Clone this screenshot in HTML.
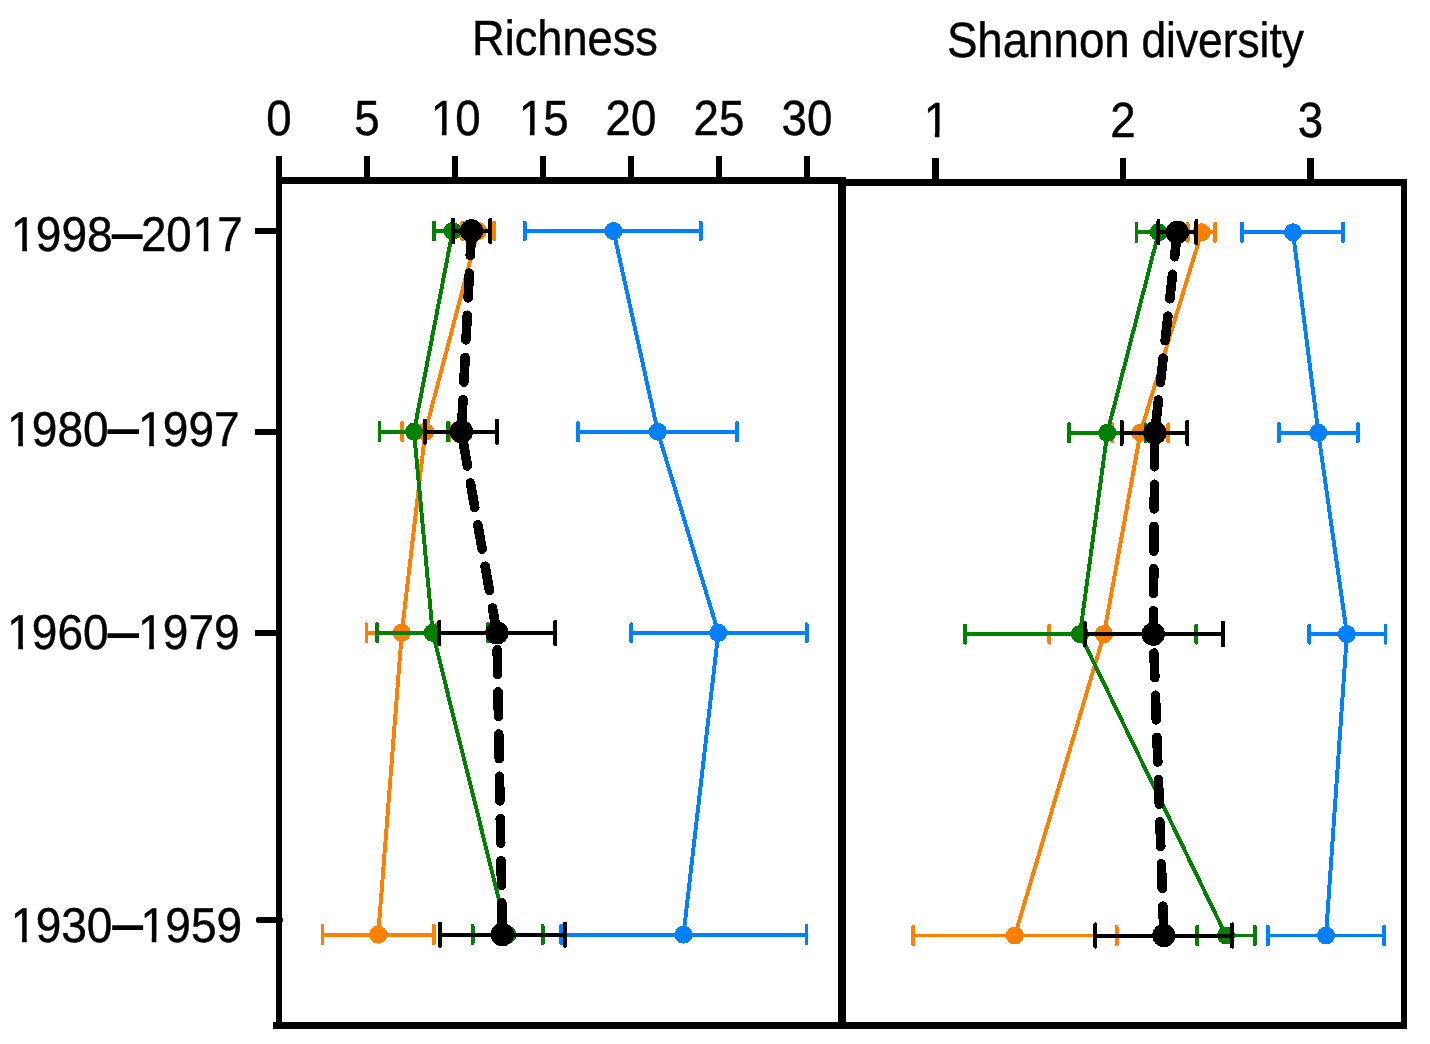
<!DOCTYPE html>
<html lang="en">
<head>
<meta charset="utf-8">
<title>Richness and Shannon diversity by period</title>
<style>
html,body{margin:0;padding:0;background:#fff;}
body{width:1430px;height:1044px;overflow:hidden;}
svg{display:block;}
svg text{font-family:"Liberation Sans",sans-serif;fill:#000;stroke:#000;stroke-width:0.45px;text-rendering:geometricPrecision;}
.frame rect{fill:#000;}
svg text .dash{stroke-width:1.55px;}
</style>
</head>
<body>
<svg width="1430" height="1044" viewBox="0 0 1430 1044">
<rect width="1430" height="1044" fill="#fff"/>
<g class="data" shape-rendering="crispEdges">
<g class="s-blue">
<polyline points="613.5,231.0 657.8,431.7 718.3,632.8 683.5,934.6" fill="none" stroke="#007FFF" stroke-width="3.9" stroke-linejoin="round"/>
<path d="M524.8 231.0H700.8" stroke="#007FFF" stroke-width="3.9" fill="none"/>
<path d="M524.8 222.4V239.6M700.8 222.4V239.6" stroke="#007FFF" stroke-width="3.9" stroke-linecap="round" fill="none"/>
<path d="M578.0 431.7H737.0" stroke="#007FFF" stroke-width="3.9" fill="none"/>
<path d="M578.0 423.1V440.3M737.0 423.1V440.3" stroke="#007FFF" stroke-width="3.9" stroke-linecap="round" fill="none"/>
<path d="M631.4 632.8H806.7" stroke="#007FFF" stroke-width="3.9" fill="none"/>
<path d="M631.4 624.2V641.4M806.7 624.2V641.4" stroke="#007FFF" stroke-width="3.9" stroke-linecap="round" fill="none"/>
<path d="M561.2 934.6H806.5" stroke="#007FFF" stroke-width="3.9" fill="none"/>
<path d="M561.2 926.0V943.2M806.5 926.0V943.2" stroke="#007FFF" stroke-width="3.9" stroke-linecap="round" fill="none"/>
<circle cx="613.5" cy="231.0" r="9.0" fill="#007FFF"/>
<circle cx="657.8" cy="431.7" r="9.0" fill="#007FFF"/>
<circle cx="718.3" cy="632.8" r="9.0" fill="#007FFF"/>
<circle cx="683.5" cy="934.6" r="9.0" fill="#007FFF"/>
<polyline points="1293.0,232.3 1318.3,432.8 1346.9,634.1 1326.0,935.5" fill="none" stroke="#007FFF" stroke-width="3.9" stroke-linejoin="round"/>
<path d="M1242.0 232.3H1343.0" stroke="#007FFF" stroke-width="3.9" fill="none"/>
<path d="M1242.0 223.7V240.9M1343.0 223.7V240.9" stroke="#007FFF" stroke-width="3.9" stroke-linecap="round" fill="none"/>
<path d="M1278.9 432.8H1357.9" stroke="#007FFF" stroke-width="3.9" fill="none"/>
<path d="M1278.9 424.2V441.4M1357.9 424.2V441.4" stroke="#007FFF" stroke-width="3.9" stroke-linecap="round" fill="none"/>
<path d="M1309.3 634.1H1385.5" stroke="#007FFF" stroke-width="3.9" fill="none"/>
<path d="M1309.3 625.5V642.7M1385.5 625.5V642.7" stroke="#007FFF" stroke-width="3.9" stroke-linecap="round" fill="none"/>
<path d="M1267.8 935.5H1384.3" stroke="#007FFF" stroke-width="3.9" fill="none"/>
<path d="M1267.8 926.9V944.1M1384.3 926.9V944.1" stroke="#007FFF" stroke-width="3.9" stroke-linecap="round" fill="none"/>
<circle cx="1293.0" cy="232.3" r="9.0" fill="#007FFF"/>
<circle cx="1318.3" cy="432.8" r="9.0" fill="#007FFF"/>
<circle cx="1346.9" cy="634.1" r="9.0" fill="#007FFF"/>
<circle cx="1326.0" cy="935.5" r="9.0" fill="#007FFF"/>
</g>
<g class="s-orange">
<polyline points="478.0,231.0 425.3,431.7 401.8,632.8 378.2,934.6" fill="none" stroke="#FF7F00" stroke-width="3.9" stroke-linejoin="round"/>
<path d="M462.3 231.0H494.3" stroke="#FF7F00" stroke-width="3.9" fill="none"/>
<path d="M462.3 222.4V239.6M494.3 222.4V239.6" stroke="#FF7F00" stroke-width="3.9" stroke-linecap="round" fill="none"/>
<path d="M402.1 431.7H449.3" stroke="#FF7F00" stroke-width="3.9" fill="none"/>
<path d="M402.1 423.1V440.3M449.3 423.1V440.3" stroke="#FF7F00" stroke-width="3.9" stroke-linecap="round" fill="none"/>
<path d="M366.5 632.8H437.0" stroke="#FF7F00" stroke-width="3.9" fill="none"/>
<path d="M366.5 624.2V641.4M437.0 624.2V641.4" stroke="#FF7F00" stroke-width="3.9" stroke-linecap="round" fill="none"/>
<path d="M322.5 934.6H433.8" stroke="#FF7F00" stroke-width="3.9" fill="none"/>
<path d="M322.5 926.0V943.2M433.8 926.0V943.2" stroke="#FF7F00" stroke-width="3.9" stroke-linecap="round" fill="none"/>
<circle cx="478.0" cy="231.0" r="9.0" fill="#FF7F00"/>
<circle cx="425.3" cy="431.7" r="9.0" fill="#FF7F00"/>
<circle cx="401.8" cy="632.8" r="9.0" fill="#FF7F00"/>
<circle cx="378.2" cy="934.6" r="9.0" fill="#FF7F00"/>
<polyline points="1201.5,232.3 1140.4,432.8 1104.0,634.1 1014.9,935.5" fill="none" stroke="#FF7F00" stroke-width="3.9" stroke-linejoin="round"/>
<path d="M1187.6 232.3H1215.2" stroke="#FF7F00" stroke-width="3.9" fill="none"/>
<path d="M1187.6 223.7V240.9M1215.2 223.7V240.9" stroke="#FF7F00" stroke-width="3.9" stroke-linecap="round" fill="none"/>
<path d="M1112.5 432.8H1168.4" stroke="#FF7F00" stroke-width="3.9" fill="none"/>
<path d="M1112.5 424.2V441.4M1168.4 424.2V441.4" stroke="#FF7F00" stroke-width="3.9" stroke-linecap="round" fill="none"/>
<path d="M1049.4 634.1H1158.6" stroke="#FF7F00" stroke-width="3.9" fill="none"/>
<path d="M1049.4 625.5V642.7M1158.6 625.5V642.7" stroke="#FF7F00" stroke-width="3.9" stroke-linecap="round" fill="none"/>
<path d="M913.3 935.5H1116.7" stroke="#FF7F00" stroke-width="3.9" fill="none"/>
<path d="M913.3 926.9V944.1M1116.7 926.9V944.1" stroke="#FF7F00" stroke-width="3.9" stroke-linecap="round" fill="none"/>
<circle cx="1201.5" cy="232.3" r="9.0" fill="#FF7F00"/>
<circle cx="1140.4" cy="432.8" r="9.0" fill="#FF7F00"/>
<circle cx="1104.0" cy="634.1" r="9.0" fill="#FF7F00"/>
<circle cx="1014.9" cy="935.5" r="9.0" fill="#FF7F00"/>
</g>
<g class="s-green">
<polyline points="452.6,231.0 414.0,431.7 432.7,632.8 507.6,934.6" fill="none" stroke="#008000" stroke-width="3.9" stroke-linejoin="round"/>
<path d="M434.0 231.0H471.2" stroke="#008000" stroke-width="3.9" fill="none"/>
<path d="M434.0 222.4V239.6M471.2 222.4V239.6" stroke="#008000" stroke-width="3.9" stroke-linecap="round" fill="none"/>
<path d="M379.5 431.7H448.0" stroke="#008000" stroke-width="3.9" fill="none"/>
<path d="M379.5 423.1V440.3M448.0 423.1V440.3" stroke="#008000" stroke-width="3.9" stroke-linecap="round" fill="none"/>
<path d="M377.2 632.8H488.2" stroke="#008000" stroke-width="3.9" fill="none"/>
<path d="M377.2 624.2V641.4M488.2 624.2V641.4" stroke="#008000" stroke-width="3.9" stroke-linecap="round" fill="none"/>
<path d="M472.6 934.6H542.7" stroke="#008000" stroke-width="3.9" fill="none"/>
<path d="M472.6 926.0V943.2M542.7 926.0V943.2" stroke="#008000" stroke-width="3.9" stroke-linecap="round" fill="none"/>
<circle cx="452.6" cy="231.0" r="9.0" fill="#008000"/>
<circle cx="414.0" cy="431.7" r="9.0" fill="#008000"/>
<circle cx="432.7" cy="632.8" r="9.0" fill="#008000"/>
<circle cx="507.6" cy="934.6" r="9.0" fill="#008000"/>
<polyline points="1158.7,232.3 1107.3,432.8 1080.0,634.1 1226.0,935.5" fill="none" stroke="#008000" stroke-width="3.9" stroke-linejoin="round"/>
<path d="M1136.5 232.3H1180.9" stroke="#008000" stroke-width="3.9" fill="none"/>
<path d="M1136.5 223.7V240.9M1180.9 223.7V240.9" stroke="#008000" stroke-width="3.9" stroke-linecap="round" fill="none"/>
<path d="M1069.0 432.8H1145.6" stroke="#008000" stroke-width="3.9" fill="none"/>
<path d="M1069.0 424.2V441.4M1145.6 424.2V441.4" stroke="#008000" stroke-width="3.9" stroke-linecap="round" fill="none"/>
<path d="M965.1 634.1H1196.4" stroke="#008000" stroke-width="3.9" fill="none"/>
<path d="M965.1 625.5V642.7M1196.4 625.5V642.7" stroke="#008000" stroke-width="3.9" stroke-linecap="round" fill="none"/>
<path d="M1197.1 935.5H1254.8" stroke="#008000" stroke-width="3.9" fill="none"/>
<path d="M1197.1 926.9V944.1M1254.8 926.9V944.1" stroke="#008000" stroke-width="3.9" stroke-linecap="round" fill="none"/>
<circle cx="1158.7" cy="232.3" r="9.0" fill="#008000"/>
<circle cx="1107.3" cy="432.8" r="9.0" fill="#008000"/>
<circle cx="1080.0" cy="634.1" r="9.0" fill="#008000"/>
<circle cx="1226.0" cy="935.5" r="9.0" fill="#008000"/>
</g>
<g class="s-black">
<polyline points="471.5,231.0 461.4,431.7 496.9,632.8 502.4,934.6" fill="none" stroke="#000" stroke-width="9.6" stroke-linecap="round" stroke-linejoin="round" stroke-dasharray="24.7 17.5"/>
<path d="M453.0 231.0H490.2" stroke="#000" stroke-width="4.0" fill="none"/>
<path d="M453.0 219.8V242.2M490.2 219.8V242.2" stroke="#000" stroke-width="4.0" stroke-linecap="round" fill="none"/>
<path d="M425.0 431.7H497.0" stroke="#000" stroke-width="4.0" fill="none"/>
<path d="M425.0 420.5V442.9M497.0 420.5V442.9" stroke="#000" stroke-width="4.0" stroke-linecap="round" fill="none"/>
<path d="M439.4 632.8H555.2" stroke="#000" stroke-width="4.0" fill="none"/>
<path d="M439.4 621.6V644.0M555.2 621.6V644.0" stroke="#000" stroke-width="4.0" stroke-linecap="round" fill="none"/>
<path d="M440.1 934.6H565.0" stroke="#000" stroke-width="4.0" fill="none"/>
<path d="M440.1 923.4V945.8M565.0 923.4V945.8" stroke="#000" stroke-width="4.0" stroke-linecap="round" fill="none"/>
<circle cx="471.5" cy="231.0" r="11.7" fill="#000"/>
<circle cx="461.4" cy="431.7" r="11.7" fill="#000"/>
<circle cx="496.9" cy="632.8" r="11.7" fill="#000"/>
<circle cx="502.4" cy="934.6" r="11.7" fill="#000"/>
<polyline points="1177.3,232.3 1154.8,432.8 1153.3,634.1 1163.9,935.5" fill="none" stroke="#000" stroke-width="9.6" stroke-linecap="round" stroke-linejoin="round" stroke-dasharray="24.7 17.5"/>
<path d="M1158.4 232.3H1196.4" stroke="#000" stroke-width="4.0" fill="none"/>
<path d="M1158.4 221.1V243.5M1196.4 221.1V243.5" stroke="#000" stroke-width="4.0" stroke-linecap="round" fill="none"/>
<path d="M1121.6 432.8H1187.4" stroke="#000" stroke-width="4.0" fill="none"/>
<path d="M1121.6 421.6V444.0M1187.4 421.6V444.0" stroke="#000" stroke-width="4.0" stroke-linecap="round" fill="none"/>
<path d="M1084.7 634.1H1223.0" stroke="#000" stroke-width="4.0" fill="none"/>
<path d="M1084.7 622.9V645.3M1223.0 622.9V645.3" stroke="#000" stroke-width="4.0" stroke-linecap="round" fill="none"/>
<path d="M1095.4 935.5H1232.2" stroke="#000" stroke-width="4.0" fill="none"/>
<path d="M1095.4 924.3V946.7M1232.2 924.3V946.7" stroke="#000" stroke-width="4.0" stroke-linecap="round" fill="none"/>
<circle cx="1177.3" cy="232.3" r="11.7" fill="#000"/>
<circle cx="1154.8" cy="432.8" r="11.7" fill="#000"/>
<circle cx="1153.3" cy="634.1" r="11.7" fill="#000"/>
<circle cx="1163.9" cy="935.5" r="11.7" fill="#000"/>
</g>
</g>
<g class="frame" shape-rendering="crispEdges">
<rect x="276" y="156" width="6.00" height="873.00"/>
<rect x="276" y="177.2" width="570.00" height="6.60"/>
<rect x="838.2" y="177.2" width="7.80" height="851.80"/>
<rect x="846" y="179.2" width="561.00" height="6.80"/>
<rect x="1401" y="179.2" width="6.00" height="849.80"/>
<rect x="273" y="1022" width="1134.00" height="6.80"/>
<rect x="364" y="156" width="6.00" height="22.00"/>
<rect x="452" y="156" width="6.00" height="22.00"/>
<rect x="540" y="156" width="6.00" height="22.00"/>
<rect x="628" y="156" width="6.00" height="22.00"/>
<rect x="716" y="156" width="6.00" height="22.00"/>
<rect x="804" y="156" width="6.00" height="22.00"/>
<rect x="932.2" y="158" width="6.80" height="22.00"/>
<rect x="1119.6" y="158" width="6.80" height="22.00"/>
<rect x="1307.0" y="158" width="6.80" height="22.00"/>
<rect x="255" y="228" width="22.00" height="6.00"/>
<rect x="255" y="428.7" width="22.00" height="6.00"/>
<rect x="255" y="629.9" width="22.00" height="6.00"/>
<path d="M259 920H280" stroke="#000" stroke-width="6" stroke-linecap="round" fill="none"/>
</g>
<g class="labels">
<text transform="translate(565.00 54.50) scale(0.915 1)" text-anchor="middle" font-size="49.4">Richness</text>
<text y="56.6" font-size="49.4"><tspan x="946.9" textLength="182.8" lengthAdjust="spacingAndGlyphs">Shannon</tspan> <tspan x="1141.4" textLength="162.5" lengthAdjust="spacingAndGlyphs">diversity</tspan></text>
<text transform="translate(279.00 134.80) scale(0.925 1)" text-anchor="middle" font-size="49.4">0</text>
<text transform="translate(367.00 134.80) scale(0.925 1)" text-anchor="middle" font-size="49.4">5</text>
<text transform="translate(455.00 134.80) scale(0.925 1)" text-anchor="middle" font-size="49.4" dx="0.8 -0.8">10</text>
<text transform="translate(543.00 134.80) scale(0.925 1)" text-anchor="middle" font-size="49.4" dx="0.8 -0.8">15</text>
<text transform="translate(631.00 134.80) scale(0.925 1)" text-anchor="middle" font-size="49.4">20</text>
<text transform="translate(719.00 134.80) scale(0.925 1)" text-anchor="middle" font-size="49.4">25</text>
<text transform="translate(807.00 134.80) scale(0.925 1)" text-anchor="middle" font-size="49.4">30</text>
<text transform="translate(935.60 136.80) scale(0.925 1)" text-anchor="middle" font-size="49.4" dx="0.8">1</text>
<text transform="translate(1123.00 136.80) scale(0.925 1)" text-anchor="middle" font-size="49.4">2</text>
<text transform="translate(1310.40 136.80) scale(0.925 1)" text-anchor="middle" font-size="49.4">3</text>
<text class="ylab" y="250.90" font-size="48.9"><tspan x="10.20" textLength="101.66" lengthAdjust="spacingAndGlyphs" dx="0.8 -0.8 0 0">1998</tspan><tspan class="dash" x="112.58" dy="-1.6" textLength="29.35" lengthAdjust="spacingAndGlyphs">–</tspan><tspan x="140.94" dy="1.6" textLength="101.66" lengthAdjust="spacingAndGlyphs" dx="0 0 0.8 -0.8">2017</tspan></text>
<text class="ylab" y="445.80" font-size="48.9"><tspan x="6.20" textLength="101.66" lengthAdjust="spacingAndGlyphs" dx="0.8 -0.8 0 0">1980</tspan><tspan class="dash" x="108.38" dy="-1.6" textLength="29.95" lengthAdjust="spacingAndGlyphs">–</tspan><tspan x="137.14" dy="1.6" textLength="101.66" lengthAdjust="spacingAndGlyphs" dx="0.8 -0.8 0 0">1997</tspan></text>
<text class="ylab" y="649.10" font-size="48.9"><tspan x="6.20" textLength="101.66" lengthAdjust="spacingAndGlyphs" dx="0.8 -0.8 0 0">1960</tspan><tspan class="dash" x="108.38" dy="-1.6" textLength="29.95" lengthAdjust="spacingAndGlyphs">–</tspan><tspan x="137.14" dy="1.6" textLength="101.66" lengthAdjust="spacingAndGlyphs" dx="0.8 -0.8 0 0">1979</tspan></text>
<text class="ylab" y="941.80" font-size="48.9"><tspan x="10.00" textLength="101.66" lengthAdjust="spacingAndGlyphs" dx="0.8 -0.8 0 0">1930</tspan><tspan class="dash" x="112.98" dy="-1.6" textLength="29.35" lengthAdjust="spacingAndGlyphs">–</tspan><tspan x="139.64" dy="1.6" textLength="101.66" lengthAdjust="spacingAndGlyphs" dx="0.8 -0.8 0 0">1959</tspan></text>
</g>
<g class="trim" fill="#fff">
<rect x="432.68" y="130.41" width="9.21" height="6.19"/>
<rect x="446.53" y="130.41" width="8.85" height="6.19"/>
<rect x="520.68" y="130.41" width="9.21" height="6.19"/>
<rect x="534.53" y="130.41" width="8.85" height="6.19"/>
<rect x="925.62" y="132.41" width="9.21" height="6.19"/>
<rect x="939.46" y="132.41" width="8.85" height="6.19"/>
<rect x="13.01" y="246.55" width="9.27" height="6.15"/>
<rect x="26.95" y="246.55" width="8.91" height="6.15"/>
<rect x="194.50" y="246.55" width="9.21" height="6.15"/>
<rect x="208.35" y="246.55" width="8.85" height="6.15"/>
<rect x="9.01" y="441.45" width="9.27" height="6.15"/>
<rect x="22.95" y="441.45" width="8.91" height="6.15"/>
<rect x="139.95" y="441.45" width="9.27" height="6.15"/>
<rect x="153.89" y="441.45" width="8.91" height="6.15"/>
<rect x="9.01" y="644.75" width="9.27" height="6.15"/>
<rect x="22.95" y="644.75" width="8.91" height="6.15"/>
<rect x="139.95" y="644.75" width="9.27" height="6.15"/>
<rect x="153.89" y="644.75" width="8.91" height="6.15"/>
<rect x="12.81" y="937.45" width="9.27" height="6.15"/>
<rect x="26.75" y="937.45" width="8.91" height="6.15"/>
<rect x="142.45" y="937.45" width="9.27" height="6.15"/>
<rect x="156.39" y="937.45" width="8.91" height="6.15"/>
</g>
</svg>
</body>
</html>
